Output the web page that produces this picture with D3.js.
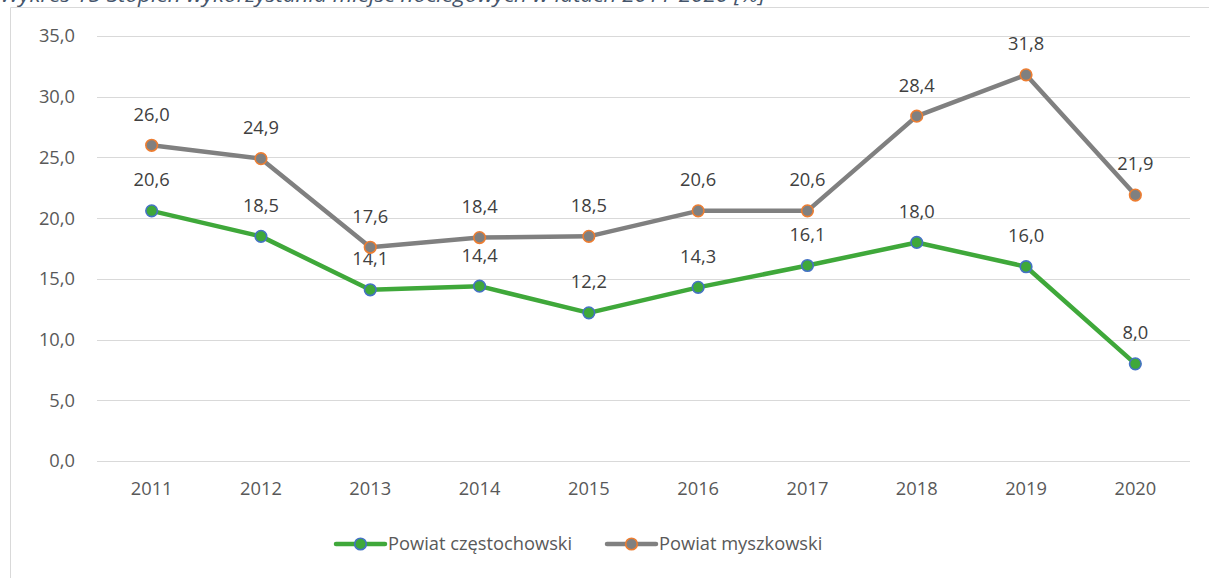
<!DOCTYPE html>
<html>
<head>
<meta charset="utf-8">
<script src="https://cdn.jsdelivr.net/npm/d3@7"></script>
<style>
  html, body { margin: 0; padding: 0; background: #fff; }
  svg { display: block; font-family: "Open Sans", Lato, sans-serif; }
</style>
</head>
<body>
<svg id="chart" width="1209" height="578"></svg>
<script>
const years = ["2011","2012","2013","2014","2015","2016","2017","2018","2019","2020"];
const czestochowski = [20.6, 18.5, 14.1, 14.4, 12.2, 14.3, 16.1, 18.0, 16.0, 8.0];
const myszkowski    = [26.0, 24.9, 17.6, 18.4, 18.5, 20.6, 20.6, 28.4, 31.8, 21.9];
const yTicks = [0, 5, 10, 15, 20, 25, 30, 35];
const seriesNames = ["Powiat częstochowski", "Powiat myszkowski"];
const titleText = "Wykres 15 Stopień wykorzystania miejsc noclegowych w latach 2011-2020 [%]";

const series = [
  { name: seriesNames[0], values: czestochowski, line: "#3fa83a", edge: "#4472c4" },
  { name: seriesNames[1], values: myszkowski,    line: "#808080", edge: "#ed7d31" }
];

const FS = 18.3;
const svg = d3.select("#chart");
const fmt = v => d3.format(".1f")(v).replace(".", ",");

const x = d3.scaleBand().domain(years).range([97, 1190]);
const y = d3.scaleLinear().domain([0, 35]).range([461, 36]);

// caption above the frame, cut off by the top edge as in the source
svg.append("text")
  .attr("x", 0).attr("y", 1.5)
  .attr("font-size", 20).attr("font-style", "italic")
  .attr("textLength", 765).attr("lengthAdjust", "spacingAndGlyphs")
  .attr("fill", "#44546a")
  .text(titleText);

// chart frame (only left & top visible)
svg.append("path")
  .attr("d", "M10.5,600 L10.5,7.5 L1220,7.5")
  .attr("fill", "none").attr("stroke", "#d9d9d9").attr("stroke-width", 1);

// gridlines
svg.append("g").selectAll("line").data(yTicks).join("line")
  .attr("x1", 97).attr("x2", 1190)
  .attr("y1", d => Math.round(y(d)) + 0.5).attr("y2", d => Math.round(y(d)) + 0.5)
  .attr("stroke", "#d9d9d9").attr("stroke-width", 1);

// y axis labels
const yAxis = svg.append("g")
  .attr("transform", "translate(97,0)")
  .call(d3.axisLeft(y).tickValues(yTicks).tickFormat(fmt).tickSize(0).tickPadding(22));
yAxis.select(".domain").remove();
yAxis.selectAll("text").attr("font-size", FS).attr("fill", "#595959")
  .attr("font-family", "'Open Sans', sans-serif");

// x axis labels
const xAxis = svg.append("g")
  .attr("transform", "translate(0,461)")
  .call(d3.axisBottom(x).tickSize(0).tickPadding(21));
xAxis.select(".domain").remove();
xAxis.selectAll("text").attr("font-size", FS).attr("fill", "#595959")
  .attr("font-family", "'Open Sans', sans-serif");

const cx = (d, i) => x(years[i]) + x.bandwidth() / 2;
const line = d3.line().x(cx).y(d => y(d));

for (const s of series) {
  const g = svg.append("g");
  g.append("path").datum(s.values)
    .attr("d", line)
    .attr("fill", "none").attr("stroke", s.line)
    .attr("stroke-width", 4.5).attr("stroke-linejoin", "round");
  g.selectAll("circle").data(s.values).join("circle")
    .attr("cx", cx).attr("cy", d => y(d)).attr("r", 5.8)
    .attr("fill", s.line).attr("stroke", s.edge).attr("stroke-width", 1.6);
  g.selectAll("text").data(s.values).join("text")
    .attr("x", cx).attr("y", d => y(d) - 31)
    .attr("dy", "0.35em")
    .attr("text-anchor", "middle")
    .attr("font-size", FS).attr("fill", "#404040")
    .text(fmt);
}

// legend
const legendX = [336, 607];
const legend = svg.append("g");
series.forEach((s, i) => {
  const lg = legend.append("g").attr("transform", `translate(${legendX[i]},544)`);
  lg.append("line").attr("x1", 0).attr("x2", 49).attr("y1", 0).attr("y2", 0)
    .attr("stroke", s.line).attr("stroke-width", 4.5).attr("stroke-linecap", "round");
  lg.append("circle").attr("cx", 24.5).attr("cy", 0).attr("r", 5.8)
    .attr("fill", s.line).attr("stroke", s.edge).attr("stroke-width", 1.6);
  lg.append("text").attr("x", 52).attr("y", 0).attr("dy", "0.35em")
    .attr("font-size", FS).attr("fill", "#595959")
    .text(s.name);
});
</script>
</body>
</html>
